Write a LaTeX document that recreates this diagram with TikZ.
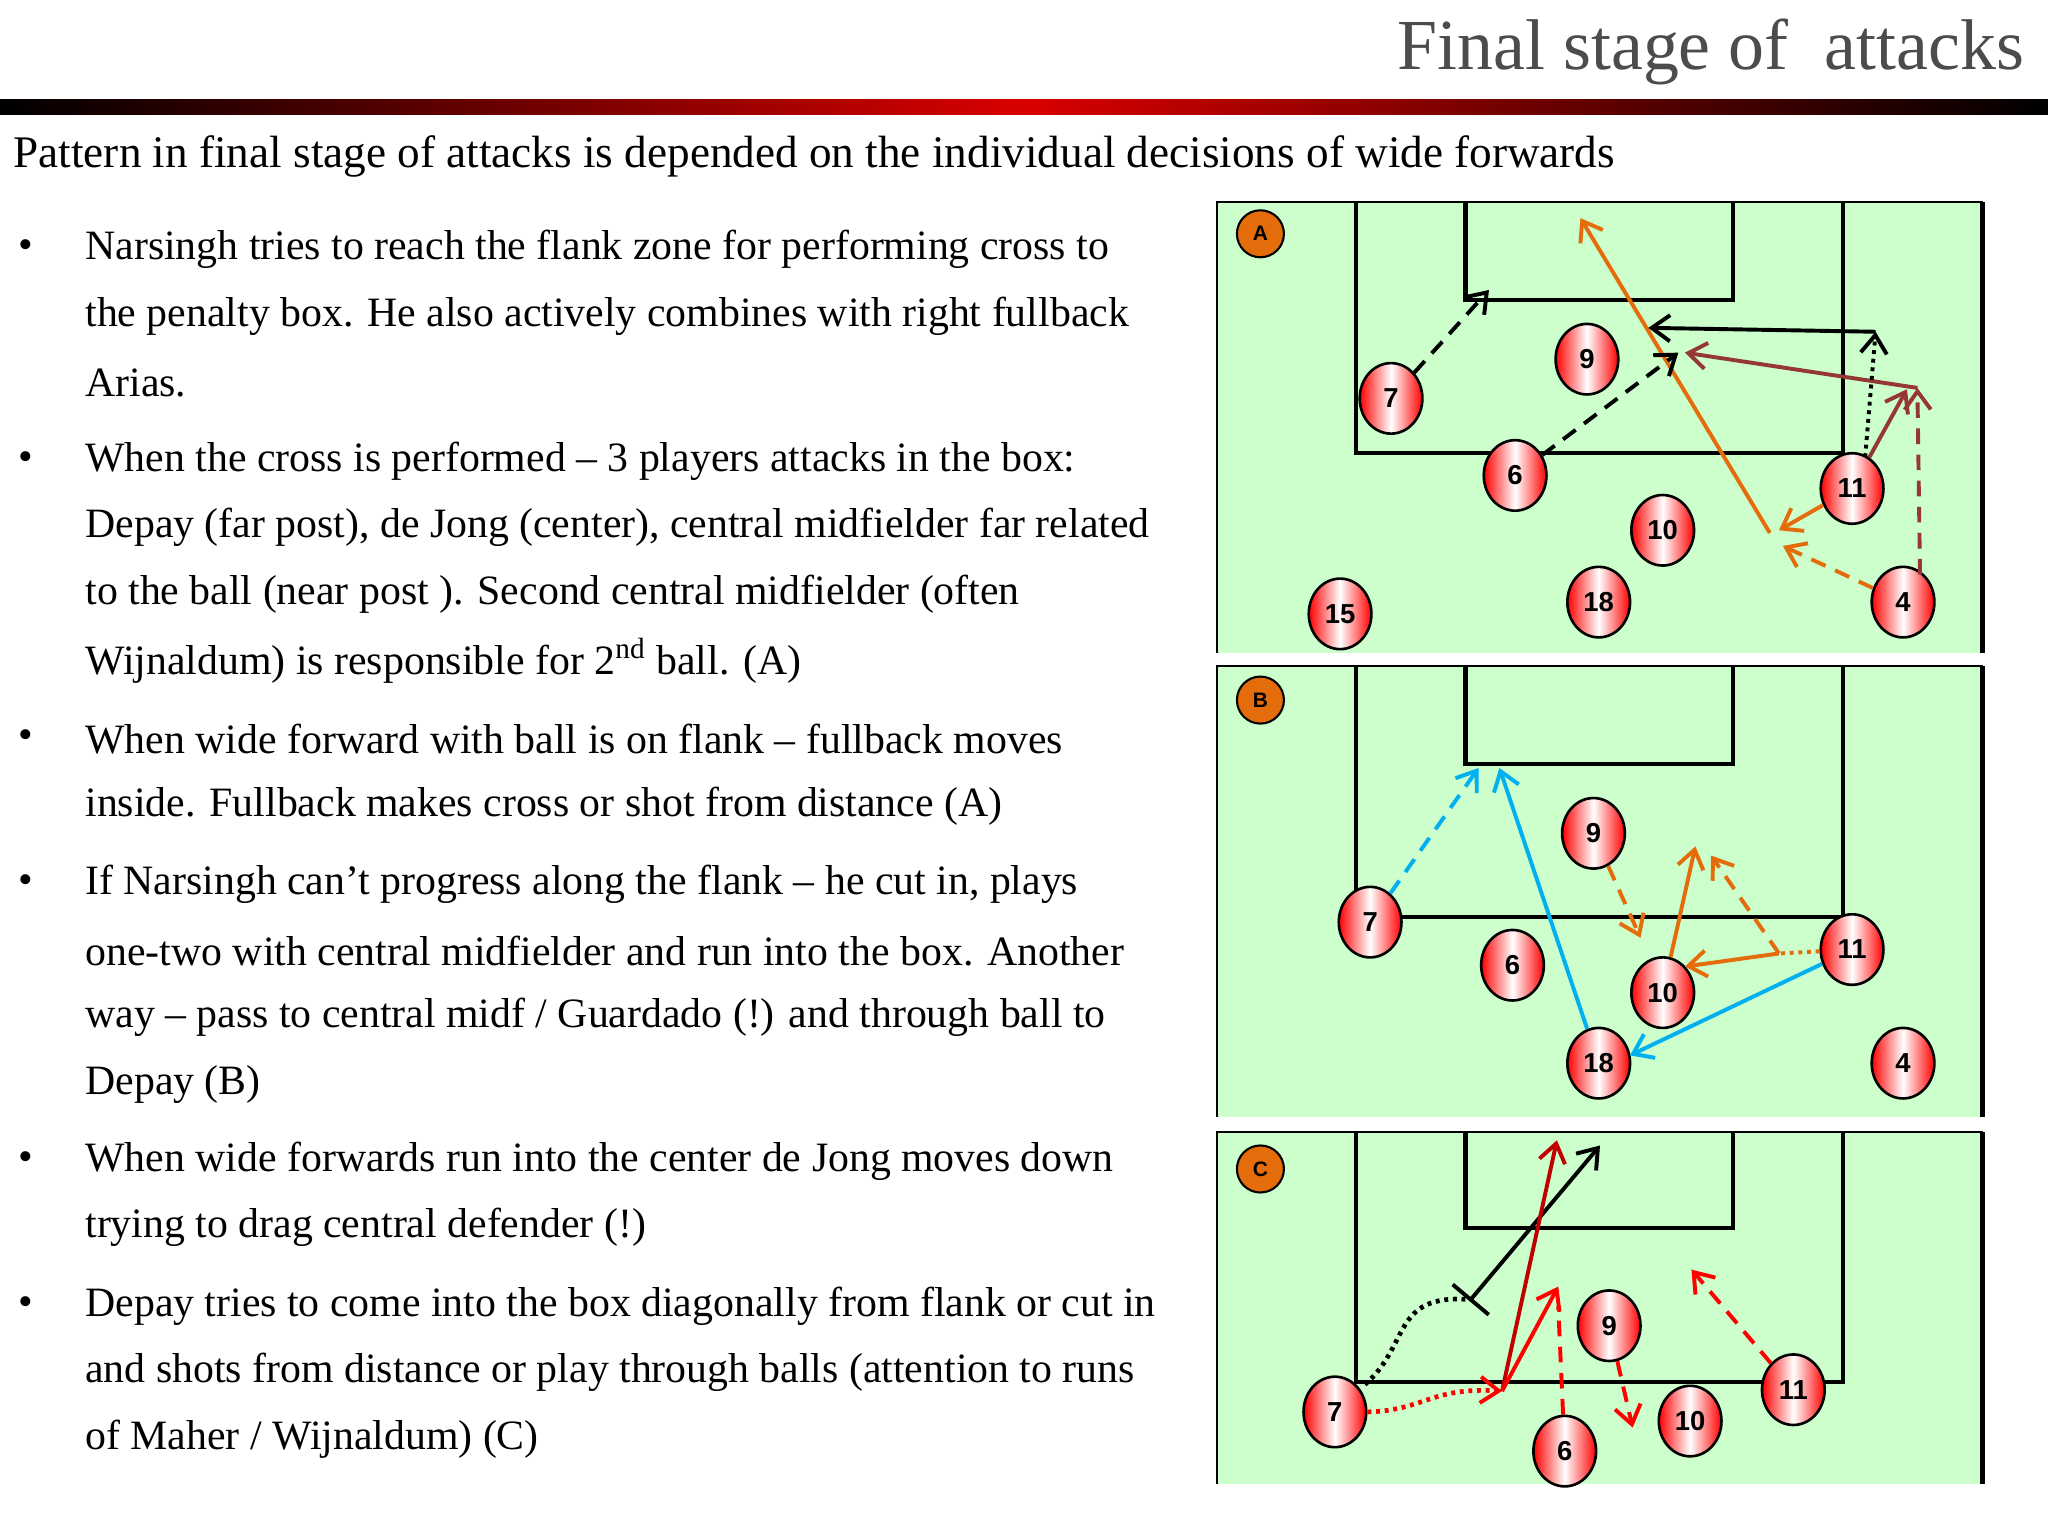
\documentclass[tikz,border=0pt]{standalone}
\usepackage{fontspec}
\setmainfont{Liberation Serif}
\setsansfont{Liberation Sans}
\usetikzlibrary{shapes.geometric,arrows.meta,calc}
\definecolor{pitch}{HTML}{CCFFCC}
\definecolor{orng}{HTML}{E46C0A}
\definecolor{brn}{HTML}{953735}
\definecolor{sky}{HTML}{00B0F0}
\definecolor{dred}{HTML}{C00000}
\tikzset{
 player/.style={ellipse,draw=black,line width=1pt,minimum width=24pt,minimum height=27pt,inner sep=0pt,
   left color=red,right color=red,middle color=white,font=\sffamily\bfseries\fontsize{10.5}{10.5}\selectfont},
 tag/.style={circle,draw=black,line width=0.8pt,fill=orng,minimum size=18pt,inner sep=0pt,font=\sffamily\bfseries\fontsize{8}{8}\selectfont},
 mv/.style={line width=1.5pt,-{Straight Barb[length=7pt,width=10pt,line width=1.5pt]}},
 dsh/.style={dash pattern=on 6pt off 4pt},
 dot/.style={dash pattern=on 1.5pt off 1.8pt},
 txt/.style={anchor=west,inner sep=0pt,font=\fontsize{16}{16}\selectfont},
 bul/.style={anchor=center,inner sep=0pt,font=\fontsize{16}{16}\selectfont},
 line/.style={line width=1.6pt}
}
\newcommand{\pitchbox}[1]{%
 \fill[pitch] (932,#1) rectangle (1518,#1+345);
 \draw[line width=0.8pt] (932,#1+345) -- (932,#1) -- (1518,#1);
 \draw[line width=1.8pt] (1518,#1) -- (1518,#1+345);
 \draw[line] (1038,#1) -- (1038,#1+192) -- (1411,#1+192) -- (1411,#1);
 \draw[line] (1122,#1) -- (1122,#1+75) -- (1327,#1+75) -- (1327,#1);
}
\begin{document}
\begin{tikzpicture}[x=0.5pt,y=-0.5pt]
\useasboundingbox (0,0) rectangle (1568,1176);
% header
\node[anchor=east,inner sep=0pt,text=black!70,font=\fontsize{27.5}{27.5}\selectfont] (title) at (1550,40) {Final stage of \ attacks};
\shade[left color=black,right color=black,middle color=red!85!black] (0,76) rectangle (1568,88);
\node[anchor=west,inner sep=0pt,font=\fontsize{17.3}{17.3}\selectfont] (sub) at (10,120) {Pattern in final stage of attacks is depended on the individual decisions of wide forwards};
% bullets
\foreach \y [count=\i] in {191,353,566,677,889,1000} \node[bul] (b\i) at (20,\y) {\textbullet};
\node[txt] (t1) at (65,191) {Narsingh tries to reach the flank zone for performing cross to};
\node[txt] (t2) at (65,242) {the penalty box. He also actively combines with right fullback};
\node[txt] (t3) at (65,293) {Arias.};
\node[txt] (t4) at (65,353) {When the cross is performed -- 3 players attacks in the box:};
\node[txt] (t5) at (65,404) {Depay (far post), de Jong (center), central midfielder far related};
\node[txt] (t6) at (65,455) {to the ball (near post ). Second central midfielder (often};
\node[txt] (t7) at (65,506) {Wijnaldum) is responsible for 2\textsuperscript{nd} ball. (A)};
\node[txt] (t8) at (65,566) {When wide forward with ball is on flank -- fullback moves};
\node[txt] (t9) at (65,617) {inside. Fullback makes cross or shot from distance (A)};
\node[txt] (t10) at (65,677) {If Narsingh can’t progress along the flank -- he cut in, plays};
\node[txt] (t11) at (65,728) {one-two with central midfielder and run into the box. Another};
\node[txt] (t12) at (65,779) {way -- pass to central midf / Guardado (!) and through ball to};
\node[txt] (t13) at (65,830) {Depay (B)};
\node[txt] (t14) at (65,889) {When wide forwards run into the center de Jong moves down};
\node[txt] (t15) at (65,940) {trying to drag central defender (!)};
\node[txt] (t16) at (65,1000) {Depay tries to come into the box diagonally from flank or cut in};
\node[txt] (t17) at (65,1051) {and shots from distance or play through balls (attention to runs};
\node[txt] (t18) at (65,1102) {of Maher / Wijnaldum) (C)};
% pitches
\pitchbox{155}
\pitchbox{510}
\begin{scope}
\fill[pitch] (932,867) rectangle (1518,1136);
\draw[line width=0.8pt] (932,1136) -- (932,867) -- (1518,867);
\draw[line width=1.8pt] (1518,867) -- (1518,1136);
\draw[line] (1038,867) -- (1038,1058) -- (1411,1058) -- (1411,867);
\draw[line] (1122,867) -- (1122,940) -- (1327,940) -- (1327,867);
\end{scope}
% ---------- A ----------
\node[tag] (ta) at (965,179) {A};
\coordinate (a1) at (1140,222);
\coordinate (a2) at (1285,270);
\coordinate (a3) at (1355,408);
\coordinate (a4) at (1210,167);
\coordinate (a5) at (1362,406);
\coordinate (a6) at (1365,418);
\coordinate (a7) at (1468,297);
\coordinate (a8) at (1290,270);
\coordinate (a9) at (1436,254);
\coordinate (a10) at (1262,251);
\coordinate (a11) at (1428,350);
\coordinate (a12) at (1460,298);
\coordinate (a13) at (1470,440);
\draw[mv,orng] (a3) -- (a4);
\draw[mv,brn] (a7) -- (a8);
\draw[mv] (a9) -- (a10);
\draw[mv,dot] (a11) -- (a9);
\node[player] (A7) at (1065,305) {7};
\node[player] (A9) at (1215,275) {9};
\node[player] (A6) at (1160,364) {6};
\node[player] (A10) at (1273,406) {10};
\node[player] (A11) at (1418,374) {11};
\node[player] (A15) at (1026,470) {15};
\node[player] (A18) at (1224,461) {18};
\node[player] (A4) at (1457,461) {4};
\draw[mv,dsh] (A7) -- (a1);
\draw[mv,dsh] (A6) -- (a2);
\draw[mv,orng] (A11) -- (a5);
\draw[mv,orng,dsh] (A4) -- (a6);
\draw[mv,brn,dsh] (a13) -- (a7);
\draw[mv,brn] (A11) -- (a12);
% ---------- B ----------
\node[tag] (tb) at (965,536) {B};
\coordinate (b1) at (1132,588);
\coordinate (b2) at (1148,588);
\coordinate (b3) at (1248,808);
\coordinate (b4) at (1256,718);
\coordinate (b5) at (1362,730);
\coordinate (b6) at (1290,740);
\coordinate (b7) at (1298,648);
\coordinate (b8) at (1310,655);
\node[player] (B7) at (1049,706) {7};
\node[player] (B9) at (1220,638) {9};
\node[player] (B6) at (1158,739) {6};
\node[player] (B10) at (1273,760) {10};
\node[player] (B11) at (1418,727) {11};
\node[player] (B18) at (1224,814) {18};
\node[player] (B4) at (1457,814) {4};
\draw[mv,sky,dsh] (B7) -- (b1);
\draw[mv,sky] (B18) -- (b2);
\draw[mv,sky] (B11) -- (b3);
\draw[mv,orng,dsh] (B9) -- (b4);
\draw[mv,orng] (b5) -- (b6);
\draw[mv,orng] (B10) -- (b7);
\draw[mv,orng,dsh] (b5) -- (b8);
\draw[line width=1.5pt,orng,dot] (B11) -- (b5);
% ---------- C ----------
\node[tag] (tc) at (965,895) {C};
\coordinate (c0) at (1045,1060);
\coordinate (c1) at (1126,995);
\coordinate (c2) at (1225,877);
\coordinate (c3) at (1150,1065);
\coordinate (c4) at (1192,873);
\coordinate (c5) at (1193,985);
\coordinate (c6) at (1193,1000);
\coordinate (c7) at (1250,1093);
\coordinate (c8) at (1295,972);
\draw[mv] (c1) -- (c2);
\draw[line width=1.5pt] ($(c1)!9pt!90:(c2)$) -- ($(c1)!9pt!-90:(c2)$);
\draw[line width=1.8pt,dot] (c0) .. controls (1080,1030) and (1065,990) .. (c1);
\draw[mv,dred] (c3) -- (c4);
\draw[mv,red] (c3) -- (c5);
\node[player] (C7) at (1022,1081) {7};
\node[player] (C9) at (1232,1015) {9};
\node[player] (C6) at (1198,1111) {6};
\node[player] (C10) at (1294,1088) {10};
\node[player] (C11) at (1373,1064) {11};
\draw[mv,red,dot,line width=1.8pt] (C7.east) .. controls (1090,1080) and (1095,1062) .. (c3);
\draw[line width=1.5pt,red,dsh] (C6) -- (c6);
\draw[mv,red,dsh] (C9) -- (c7);
\draw[mv,red,dsh] (C11) -- (c8);
\end{tikzpicture}
\end{document}
